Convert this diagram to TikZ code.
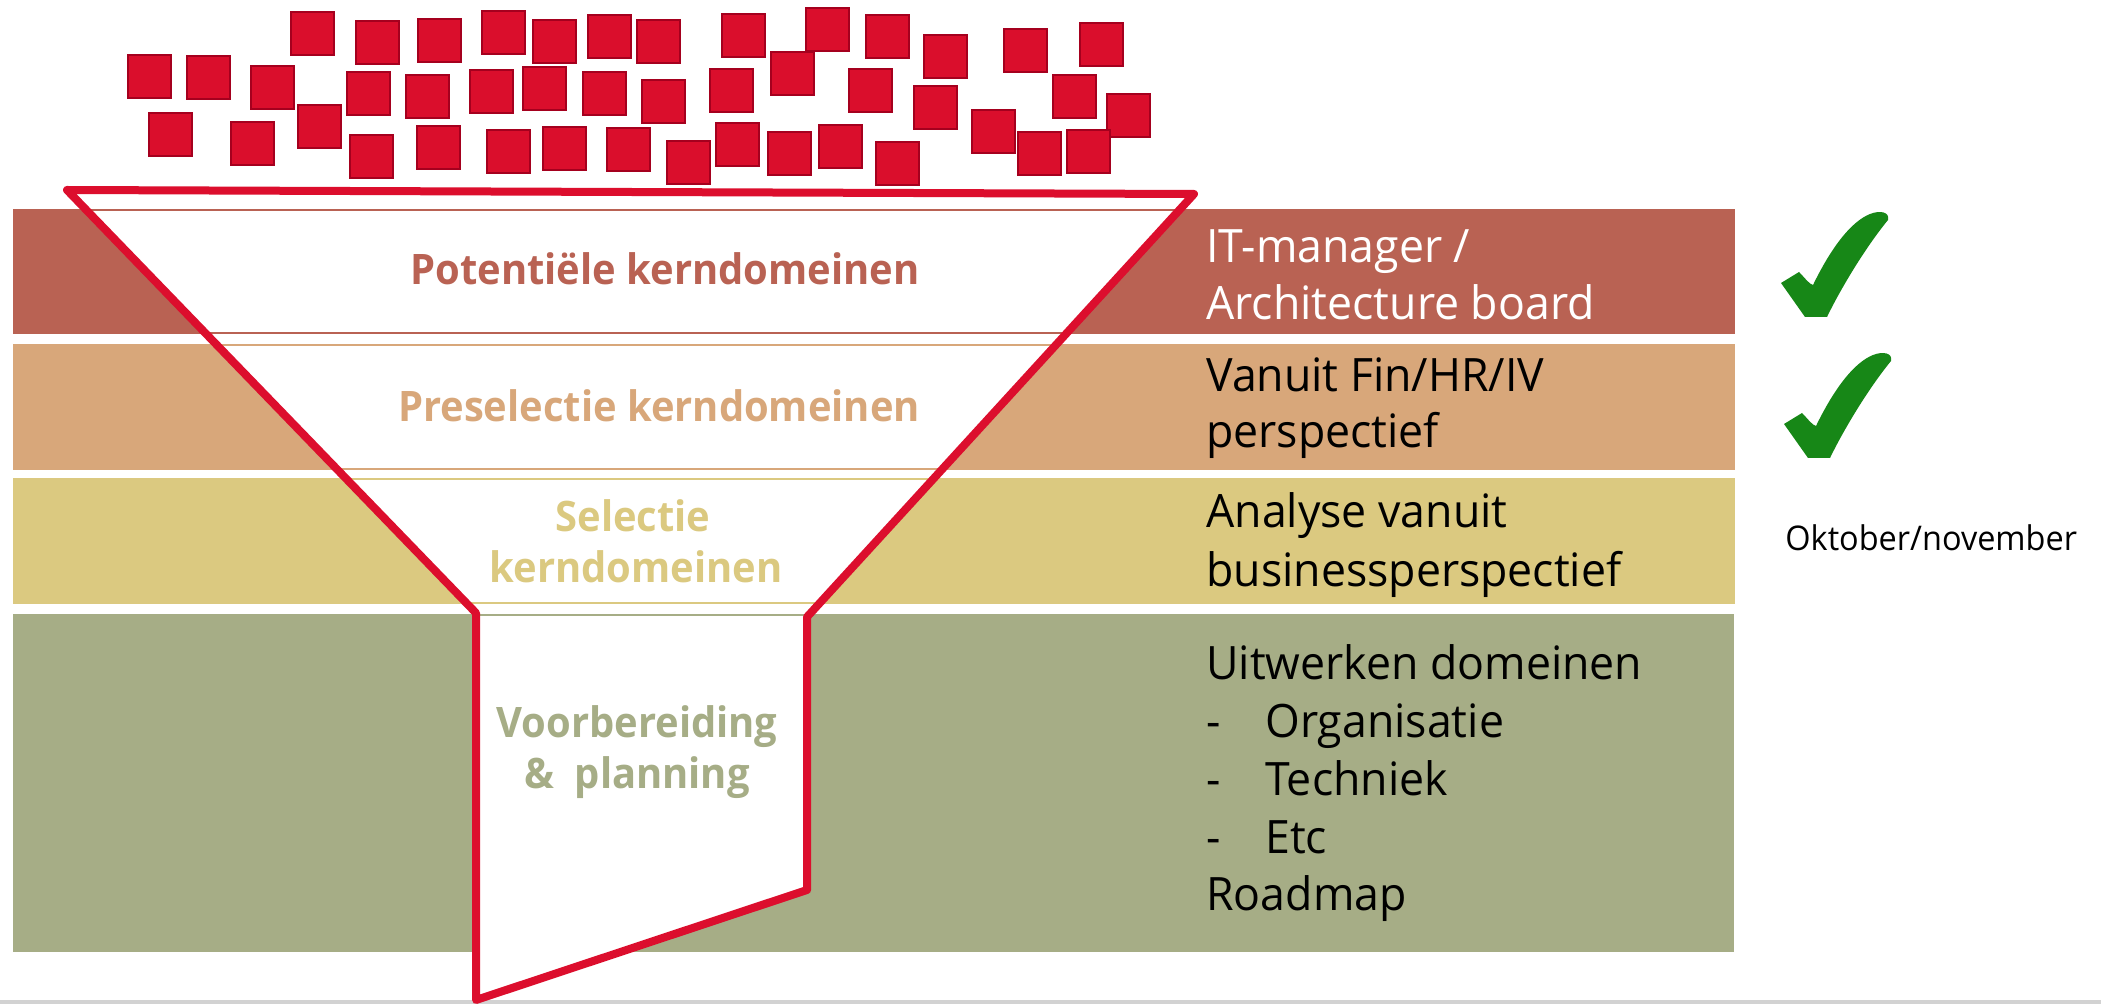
\documentclass[tikz,border=0pt]{standalone}
\usepackage{fontspec}
\setmainfont{Open Sans}[FakeStretch=0.97]
\newfontfamily\labfont{Open Sans}[FakeStretch=0.95]
\newfontfamily\oktfont{Open Sans}[FakeStretch=0.955]
\definecolor{bandA}{RGB}{185,98,83}
\definecolor{bandB}{RGB}{216,167,122}
\definecolor{bandC}{RGB}{219,201,128}
\definecolor{bandD}{RGB}{166,173,134}
\definecolor{funred}{RGB}{220,14,45}
\definecolor{sqred}{RGB}{218,14,44}
\definecolor{sqdark}{RGB}{165,0,30}
\definecolor{chk}{RGB}{23,135,23}
\begin{document}
\begin{tikzpicture}[x=0.5pt,y=-0.5pt,
  rtxt/.style={anchor=base west,inner sep=0pt,font=\fontsize{23}{28.5}\selectfont},
  lab/.style={anchor=base,inner sep=0pt,font=\labfont\bfseries\fontsize{21}{25}\selectfont},
  sq/.style={fill=sqred,draw=sqdark,line width=1pt},
  funnel/.style={draw=funred,line width=4pt,line join=round},
  bline/.style={line width=1pt},
  chkmark/.style={fill=chk}]
\useasboundingbox (0,0) rectangle (2101,1005);
% bands
\fill[bandA] (13,209) rectangle (1735,334);
\fill[bandB] (13,344) rectangle (1735,470);
\fill[bandC] (13,478) rectangle (1735,604);
\fill[bandD] (13,614) rectangle (1734,952);
% bottom rule
\draw[gray!35,line width=2pt] (0,1002) -- (2101,1002);
% squares
\foreach \x/\y in {291/12,356/21,418/19,482/11,533/20,588/15,637/20,722/14,806/8,866/15,924/35,1004/29,1080/23,
128/55,187/56,251/66,347/72,406/75,470/70,523/67,583/72,642/80,710/69,771/52,849/69,914/86,1053/75,1107/94,
149/113,231/122,298/105,350/135,417/126,487/130,543/127,607/128,667/141,716/123,768/132,819/125,876/142,972/110,1018/132,1067/130}
  \draw[sq] (\x,\y) rectangle ++(43,43);
% funnel
\coordinate (ftl) at (67,190);
\coordinate (ftr) at (1194,194);
\coordinate (fr1) at (807,617);
\coordinate (fr2) at (807,890);
\coordinate (fb) at (476,1000);
\coordinate (fl1) at (476,613);
\fill[white] (ftl) -- (ftr) -- (fr1) -- (fr2) -- (fb) -- (fl1) -- cycle;
\begin{scope}
  \clip (ftl) -- (ftr) -- (fr1) -- (fr2) -- (fb) -- (fl1) -- cycle;
  \draw[bline,bandA] (0,210) -- (1300,210);
  \draw[bline,bandA] (0,333) -- (1300,333);
  \draw[bline,bandB] (0,345) -- (1300,345);
  \draw[bline,bandB] (0,469) -- (1300,469);
  \draw[bline,bandC] (0,479) -- (1300,479);
  \draw[bline,bandC] (0,603) -- (1300,603);
  \draw[bline,bandD] (0,615) -- (1300,615);
\end{scope}
\draw[funnel] (ftl) -- (ftr) -- (fr1) -- (fr2) -- (fb) -- (fl1) -- cycle;
% funnel labels
\node[lab,text=bandA] (l1) at (665,285) {Potentiële kerndomeinen};
\node[lab,text=bandB] (l2) at (659,422) {Preselectie kerndomeinen};
\node[lab,text=bandC] (l3a) at (633,532) {Selectie};
\node[lab,text=bandC] (l3b) at (636,583) {kerndomeinen};
\node[lab,text=bandD] (l4a) at (637,738) {Voorbereiding};
\node[lab,text=bandD] (l4b) at (637,788) {\&\ \ planning};
% right texts
\node[rtxt,text=white] (r1a) at (1206,263) {IT-manager /};
\node[rtxt,text=white] (r1b) at (1206,320) {Architecture board};
\node[rtxt] (r2a) at (1206,392) {Vanuit Fin/HR/IV};
\node[rtxt] (r2b) at (1206,448) {perspectief};
\node[rtxt] (r3a) at (1206,528) {Analyse vanuit};
\node[rtxt] (r3b) at (1206,587) {businessperspectief};
\node[rtxt] (r4a) at (1206,680) {Uitwerken domeinen};
\node[rtxt] (r4b) at (1206,738) {\makebox[29.5pt][l]{-}Organisatie};
\node[rtxt] (r4c) at (1206,795) {\makebox[29.5pt][l]{-}Techniek};
\node[rtxt] (r4d) at (1206,853) {\makebox[29.5pt][l]{-}Etc};
\node[rtxt] (r4e) at (1206,910) {Roadmap};
\node[anchor=base west,inner sep=0pt,font=\oktfont\fontsize{17}{20}\selectfont] (okt) at (1785,551) {Oktober/november};
% check marks
\foreach \dx/\dy in {0/0,3/141}{
\begin{scope}[shift={(\dx,\dy)}]
\fill[chkmark] (1781,283) -- (1799,272) .. controls (1805,278) and (1809,284) .. (1813,285)
  .. controls (1830,250) and (1850,222) .. (1870,214)
  .. controls (1880,210) and (1890,212) .. (1888,220)
  .. controls (1865,248) and (1840,290) .. (1827,317) -- (1805,317) -- cycle;
\end{scope}}
\end{tikzpicture}
\end{document}
